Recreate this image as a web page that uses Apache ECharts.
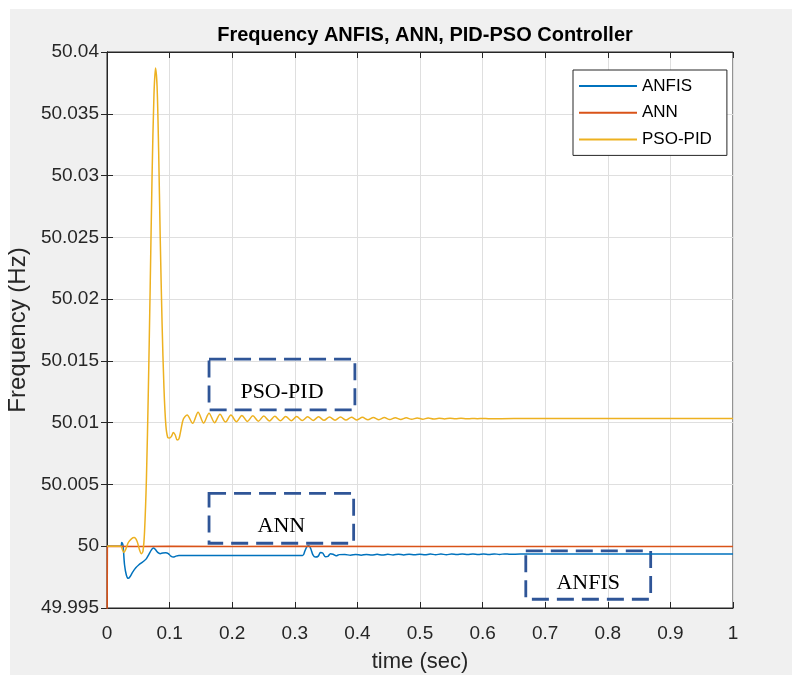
<!DOCTYPE html>
<html>
<head>
<meta charset="utf-8">
<script src="https://cdn.jsdelivr.net/npm/echarts@6/dist/echarts.min.js"></script>
<style>
html,body{margin:0;padding:0;background:#fff;}
#chart{width:792px;height:675px;}
</style>
</head>
<body>
<div id="chart"></div>
<script>
// ---- data ----
var seriesNames = ['ANFIS', 'ANN', 'PSO-PID'];
var seriesColors = ['#0072BD', '#D95319', '#EDB120'];
var xTickLabels = ['0','0.1','0.2','0.3','0.4','0.5','0.6','0.7','0.8','0.9','1'];
var yTickLabels = ['49.995','50','50.005','50.01','50.015','50.02','50.025','50.03','50.035','50.04'];

var anfisData = [
  [0,50],[0.022,50],[0.0235,50.0003],[0.0255,50.0001],[0.028,49.9985],[0.031,49.99765],[0.034,49.9974],
  [0.037,49.99755],[0.041,49.9979],[0.046,49.99825],[0.051,49.9985],[0.055,49.99865],[0.059,49.9988],
  [0.063,49.9990],[0.067,49.99935],[0.071,49.9997],[0.074,49.99985],[0.077,49.99975],[0.081,49.9995],
  [0.085,49.9994],[0.089,49.99945],[0.094,49.99948],[0.098,49.9994],[0.102,49.9992],[0.106,49.99912],
  [0.11,49.9992],[0.115,49.99925],[0.2,49.99925],[0.3125,49.99925],[0.316,49.9996],[0.3195,49.99998],
  [0.3225,50.00003],[0.3255,49.9998],[0.329,49.9993],[0.333,49.99912],[0.3375,49.9992],[0.341,49.9995],
  [0.3445,49.99945],[0.349,49.99915],[0.353,49.99918],[0.357,49.9994],[0.361,49.99935],[0.366,49.99922],
  [0.371,49.99932],[0.38,49.99933],[0.389,49.99927],[0.3975,49.99934],[0.406,49.99927],[0.4145,49.99934],
  [0.423,49.99928],[0.4315,49.99935],[0.44,49.99928],[0.4485,49.99935],[0.457,49.99929],[0.4655,49.99936],
  [0.474,49.99929],[0.4825,49.99936],[0.491,49.9993],[0.4995,49.99936],[0.508,49.9993],[0.5165,49.99937],
  [0.525,49.99931],[0.5335,49.99937],[0.542,49.99931],[0.5505,49.99937],[0.559,49.99932],[0.5675,49.99937],
  [0.576,49.99932],[0.5845,49.99938],[0.593,49.99933],[0.6015,49.99938],[0.61,49.99933],[0.6185,49.99938],
  [0.627,49.99934],[0.6355,49.99938],[0.644,49.99935],[0.66,49.99937],[1,49.99937]
];

var annData = [
  [0,49.99],[0.0006,50],[0.05,49.99998],[0.1,50],[0.2,49.99997],[0.3,50],[0.5,49.99998],[1,49.99998]
];

var psoData = [
  [0,50],[0.022,50],[0.0245,49.99975],[0.027,49.9995],[0.030,49.99975],[0.034,50.0003],[0.039,50.0006],
  [0.0435,50.0007],[0.048,50.0004],[0.052,49.9997],[0.055,49.9994],[0.0575,49.9996],[0.060,50.0012],
  [0.063,50.0055],[0.066,50.0125],[0.069,50.021],[0.072,50.030],[0.075,50.0365],[0.0775,50.0387],
  [0.080,50.0372],[0.0825,50.032],[0.085,50.025],[0.088,50.018],[0.091,50.0128],[0.094,50.0098],
  [0.097,50.0088],[0.100,50.00875],[0.103,50.0089],[0.106,50.0092],[0.109,50.0090],[0.112,50.0086],
  [0.115,50.0087],[0.118,50.0094],[0.122,50.0103],
  [0.128,50.01062],[0.1368,50.00995],[0.1455,50.01085],[0.1543,50.00997],[0.163,50.01077],[0.1718,50.0100],
  [0.1805,50.01068],[0.1893,50.01005],[0.198,50.01062],[0.2068,50.01008],[0.2155,50.01058],[0.2243,50.0101],
  [0.233,50.01055],[0.2418,50.01012],[0.2505,50.01053],[0.2593,50.01014],[0.268,50.01051],[0.2768,50.01015],
  [0.2855,50.0105],[0.2943,50.01016],[0.303,50.01049],[0.3118,50.01017],[0.3205,50.01048],[0.3293,50.01018],
  [0.338,50.01047],[0.3468,50.01019],[0.3555,50.01046],[0.3643,50.0102],[0.373,50.01045],[0.3818,50.01021],
  [0.3905,50.01044],[0.3993,50.01022],[0.408,50.01043],[0.4168,50.01023],[0.4255,50.01042],[0.4343,50.01024],
  [0.443,50.01041],[0.4518,50.01025],[0.4605,50.0104],[0.4693,50.01026],[0.478,50.01039],[0.4868,50.01027],
  [0.4955,50.01038],[0.5043,50.01028],[0.513,50.01037],[0.5218,50.01029],[0.5305,50.01036],[0.5393,50.0103],
  [0.548,50.01036],[0.5568,50.01031],[0.5655,50.01035],[0.5743,50.01031],[0.583,50.01034],[0.5918,50.01032],
  [0.6005,50.01034],[0.6093,50.01032],[0.65,50.01033],[1,50.01033]
];

// annotation boxes in data space
var annotationLabels = ['PSO-PID', 'ANN', 'ANFIS'];
var annotationX = [[0.163, 0.396], [0.163, 0.394], [0.669, 0.8685]];
var annotationY = [[50.01103, 50.01515], [50.00024, 50.00428], [49.99571, 49.99962]];

// ---- chart ----
var chart = echarts.init(document.getElementById('chart'), null, {renderer: 'canvas'});
var FONT = '"Liberation Sans", Arial, Helvetica, sans-serif';
var axisColor = '#262626';
var gridColor = '#dfdfdf';

function yLabel(v) {
  var i = Math.round((v - 49.995) / 0.005);
  return yTickLabels[i] !== undefined ? yTickLabels[i] : '';
}
function xLabel(v) {
  var i = Math.round(v / 0.1);
  return xTickLabels[i] !== undefined ? xTickLabels[i] : '';
}

var markAreaData = annotationLabels.map(function (lab, i) {
  return [
    {name: lab, coord: [annotationX[i][0], annotationY[i][1]]},
    {coord: [annotationX[i][1], annotationY[i][0]]}
  ];
});

var series = [anfisData, annData, psoData].map(function (d, i) {
  return {
    name: seriesNames[i],
    type: 'line',
    data: d,
    showSymbol: false,
    symbol: 'none',
    smooth: i === 1 ? false : 0.3,
    lineStyle: {color: seriesColors[i], width: 1.5},
    itemStyle: {color: seriesColors[i]},
    animation: false,
    z: 3 + i
  };
});
series.push({
  name: 'annotations',
  type: 'line',
  data: [],
  silent: true,
  animation: false,
  z: 10,
  markArea: {
    silent: true,
    itemStyle: {
      color: 'rgba(0,0,0,0)',
      borderColor: '#2F5597',
      borderWidth: 2.8,
      borderType: [17, 8]
    },
    label: {
      show: true,
      position: 'inside',
      offset: [0, 8],
      color: '#000',
      fontFamily: '"Liberation Serif", "Times New Roman", serif',
      fontSize: 22
    },
    data: markAreaData
  }
});

var option = {
  backgroundColor: '#ffffff',
  animation: false,
  graphic: [{
    type: 'rect',
    z: -100,
    silent: true,
    shape: {x: 10, y: 9, width: 782, height: 666},
    style: {fill: '#f0f0f0'}
  }],
  title: {
    text: 'Frequency ANFIS, ANN, PID-PSO Controller',
    left: 420,
    top: 20,
    textAlign: 'center',
    textStyle: {fontFamily: FONT, fontSize: 20, fontWeight: 'bold', color: '#000'}
  },
  legend: {
    data: seriesNames,
    orient: 'vertical',
    left: 573,
    top: 70,
    padding: [6, 15, 6, 6],
    itemWidth: 58,
    itemHeight: 2,
    itemGap: 6.7,
    icon: 'rect',
    backgroundColor: '#fff',
    borderColor: axisColor,
    borderWidth: 1,
    borderRadius: 0,
    selectedMode: false,
    textStyle: {fontFamily: FONT, fontSize: 17, color: '#000', lineHeight: 20}
  },
  grid: {
    left: 107, top: 52, width: 626, height: 556,
    containLabel: false,
    outerBoundsMode: 'none',
    show: true, backgroundColor: '#ffffff', borderColor: axisColor, borderWidth: 1
  },
  xAxis: [{
    type: 'value', min: 0, max: 1, interval: 0.1,
    position: 'bottom',
    name: 'time (sec)', nameLocation: 'middle', nameGap: 43,
    nameTextStyle: {fontFamily: FONT, fontSize: 22, color: axisColor},
    axisLine: {show: true, lineStyle: {color: axisColor, width: 1}},
    axisTick: {show: true, inside: true, length: 6, lineStyle: {color: axisColor}},
    axisLabel: {fontFamily: FONT, fontSize: 19, color: axisColor, margin: 16, formatter: xLabel},
    splitLine: {show: true, lineStyle: {color: gridColor, width: 1}}
  }, {
    type: 'value', min: 0, max: 1, interval: 0.1,
    position: 'top',
    axisLine: {show: true, lineStyle: {color: axisColor, width: 1}},
    axisTick: {show: true, inside: true, length: 6, lineStyle: {color: axisColor}},
    axisLabel: {show: false},
    splitLine: {show: false}
  }],
  yAxis: [{
    type: 'value', min: 49.995, max: 50.04, interval: 0.005,
    position: 'left',
    name: 'Frequency (Hz)', nameLocation: 'middle', nameGap: 67,
    nameTextStyle: {fontFamily: FONT, fontSize: 24, color: axisColor},
    axisLine: {show: true, lineStyle: {color: axisColor, width: 1}},
    axisTick: {show: true, inside: true, length: 6, lineStyle: {color: axisColor}},
    axisLabel: {fontFamily: FONT, fontSize: 19, color: axisColor, margin: 8, formatter: yLabel},
    splitLine: {show: true, lineStyle: {color: gridColor, width: 1}}
  }, {
    type: 'value', min: 49.995, max: 50.04, interval: 0.005,
    position: 'right',
    axisLine: {show: true, lineStyle: {color: axisColor, width: 1}},
    axisTick: {show: true, inside: true, length: 6, lineStyle: {color: axisColor}},
    axisLabel: {show: false},
    splitLine: {show: false}
  }],
  series: series
};
chart.setOption(option);
</script>
</body>
</html>
